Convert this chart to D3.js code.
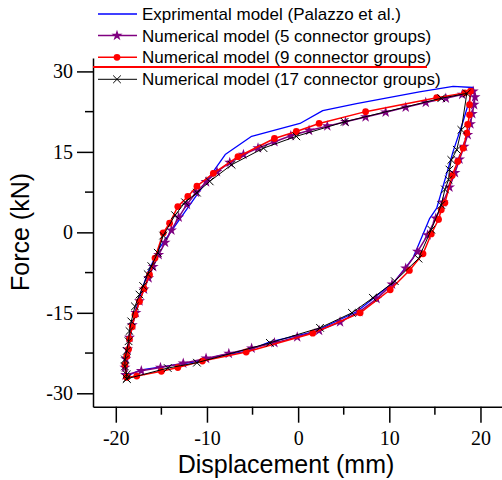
<!DOCTYPE html>
<html>
<head>
<meta charset="utf-8">
<script src="https://cdn.jsdelivr.net/npm/d3@7"></script>
<style>
  body { margin: 0; background: #fff; }
  svg { display: block; }
  .tick text { font-family: "Liberation Serif", "Times New Roman", serif; font-size: 20px; }
  .sans { font-family: "Liberation Sans", Arial, sans-serif; }
</style>
</head>
<body>
<svg id="chart" width="502" height="480"></svg>
<script>
// Hysteresis loops, [displacement (mm), force (kN)]
const experimental = [
    [-18.9, -26.9], [-18.7, -22.5], [-18.2, -17.5], [-17.5, -12.5], [-16.5, -7.5], [-15.2, -2.9],
    [-8.0, 14.5], [-5.1, 17.9], [0.2, 20.3], [2.7, 22.7], [6.4, 24.0], [13.3, 26.2], [17.0, 27.2],
    [19.2, 27.0], [18.1, 20.7], [17.0, 15.1], [15.2, 4.5], [14.4, 2.5], [12.6, -4.8], [10.6, -9.1],
    [9.0, -11.3], [6.4, -14.8], [1.8, -18.5], [-3.1, -20.4], [-5.7, -22.2], [-8.6, -23.0],
    [-11.1, -24.1], [-17.4, -25.7], [-18.9, -26.9]
];

const groups5 = [
    [-18.9, -26.6], [-19.0, -25.2], [-18.9, -23.6], [-18.7, -21.8], [-18.5, -19.6], [-18.2, -17.3],
    [-17.8, -15.0], [-17.4, -12.8], [-16.9, -10.6], [-16.4, -8.5], [-15.9, -6.4], [-15.3, -4.2],
    [-14.6, -1.9], [-13.9, 0.4], [-13.1, 2.8], [-12.2, 5.2], [-11.2, 7.4], [-10.1, 9.4], [-8.9, 11.3],
    [-7.5, 13.0], [-6.0, 14.5], [-4.4, 15.7], [-2.6, 16.9], [-0.8, 18.0], [1.2, 19.0], [3.2, 19.8],
    [5.2, 20.6], [7.4, 21.5], [9.6, 22.4], [11.8, 23.3], [14.0, 24.2], [16.2, 25.0], [18.0, 25.7],
    [19.2, 26.3], [19.4, 25.2], [19.3, 23.8], [19.1, 22.1], [18.9, 20.2], [18.6, 18.2], [18.2, 16.0],
    [17.7, 13.6], [17.2, 11.1], [16.6, 8.4], [15.9, 5.6], [15.1, 2.6], [14.2, -0.5], [13.1, -3.6],
    [11.8, -6.7], [10.3, -9.7], [8.6, -12.4], [6.7, -14.8], [4.6, -16.7], [2.3, -18.3], [-0.1, -19.5],
    [-2.6, -20.6], [-5.1, -21.6], [-7.6, -22.6], [-10.1, -23.5], [-12.6, -24.4], [-15.1, -25.2],
    [-17.2, -25.8], [-18.9, -26.6]
];

const groups9 = [
    [-18.8, -27.0], [-19.0, -24.7], [-18.8, -23.1], [-18.6, -21.8], [-18.5, -19.9], [-18.2, -17.6],
    [-17.9, -15.4], [-17.4, -12.9], [-16.9, -10.5], [-16.3, -7.9], [-15.7, -4.8], [-14.8, -0.1],
    [-14.1, 1.7], [-13.2, 4.8], [-12.1, 6.7], [-11.1, 8.6], [-9.3, 11.0], [-6.6, 14.1], [-2.6, 17.5],
    [-0.2, 18.8], [2.3, 20.3], [7.4, 22.5], [15.2, 25.1], [18.3, 26.0], [18.9, 26.3], [18.8, 23.8],
    [18.8, 21.9], [18.6, 20.1], [18.5, 18.5], [18.1, 15.7], [17.5, 13.2], [16.9, 10.6], [16.1, 5.5],
    [15.7, 4.2], [15.4, 2.4], [14.6, -0.3], [13.7, -4.0], [12.2, -7.1], [10.1, -10.7], [6.8, -15.0],
    [1.6, -18.8], [-5.7, -22.3], [-10.5, -24.0], [-13.2, -25.2], [-15.0, -25.9], [-17.7, -26.8],
    [-18.8, -27.0]
];

const groups17 = [
    [-18.8, -27.3], [-18.8, -26.5], [-19.0, -25.0], [-19.0, -23.7], [-18.8, -22.1], [-18.6, -20.3],
    [-18.5, -18.4], [-18.3, -16.6], [-17.9, -13.8], [-17.4, -11.6], [-17.0, -10.0], [-16.5, -7.8],
    [-16.1, -6.3], [-15.4, -3.8], [-14.8, -0.6], [-13.5, 3.2], [-12.4, 5.6], [-11.1, 7.4], [-9.7, 9.5],
    [-7.3, 12.6], [-3.8, 15.7], [-0.2, 17.9], [5.1, 20.6], [15.7, 25.0], [18.5, 25.9], [17.9, 19.1],
    [17.4, 15.4], [16.8, 13.5], [16.6, 11.7], [16.5, 9.8], [16.1, 8.0], [15.7, 5.1], [14.6, 0.5],
    [13.2, -4.9], [10.6, -9.1], [8.2, -12.2], [5.9, -15.0], [2.4, -17.8], [-3.1, -20.6], [-11.1, -24.3],
    [-14.3, -25.3], [-18.8, -27.3]
];

const xTicks = [-20, -10, 0, 10, 20];
const xMinor = [-15, -5, 5, 15];
const yTicks = [-30, -15, 0, 15, 30];
const yMinor = [-22.5, -7.5, 7.5, 22.5];

const seriesNames = [
    "Exprimental model (Palazzo et al.)",
    "Numerical model (5 connector groups)",
    "Numerical model (9 connector groups)",
    "Numerical model (17 connector groups)"
];

const svg = d3.select("#chart");
const margin = {left: 93, top: 58, bottom: 406.7};

const x = d3.scaleLinear().domain([-22.5, 22.5]).range([margin.left, margin.left + 45 * 9.117]);
const y = d3.scaleLinear().domain([-32.5, 32.5]).range([margin.bottom, margin.top]);

const series = [
    {data: experimental, color: "#0000ff", width: 1.3, marker: null},
    {data: groups5, color: "#800080", width: 1.5, marker: "star"},
    {data: groups9, color: "#ff0000", width: 1.5, marker: "dot"},
    {data: groups17, color: "#000000", width: 1, marker: "cross"}
];

function drawMarker(g, kind, color) {
    if (kind === "star") {
        g.append("path")
            .attr("d", d3.symbol(d3.symbolStar, 38)())
            .attr("fill", color);
    } else if (kind === "dot") {
        g.append("circle").attr("r", 3.4).attr("fill", color);
    } else if (kind === "cross") {
        g.append("path")
            .attr("d", d3.symbol(d3.symbolX, 40)())
            .attr("fill", "none")
            .attr("stroke", color)
            .attr("stroke-width", 1);
    }
}

const line = d3.line().x(d => x(d[0])).y(d => y(d[1]));

// Loops
series.forEach(s => {
    svg.append("path")
        .datum(s.data)
        .attr("fill", "none")
        .attr("stroke", s.color)
        .attr("stroke-width", s.width)
        .attr("stroke-linejoin", "round")
        .attr("d", line);

    if (s.marker) {
        svg.append("g")
            .selectAll("g")
            .data(s.data)
            .join("g")
            .attr("transform", d => `translate(${x(d[0])},${y(d[1])})`)
            .each(function () { drawMarker(d3.select(this), s.marker, s.color); });
    }
});

// Axes
const fmt = d => String(d);
const xAxis = svg.append("g")
    .attr("transform", `translate(0,${margin.bottom})`)
    .call(d3.axisBottom(x).tickValues(xTicks).tickFormat(fmt).tickSize(16).tickSizeOuter(0).tickPadding(8));
xAxis.append("g")
    .selectAll("line")
    .data(xMinor)
    .join("line")
    .attr("x1", d => x(d)).attr("x2", d => x(d))
    .attr("y1", 0).attr("y2", 8)
    .attr("stroke", "#000").attr("stroke-width", 1.5);

const yAxis = svg.append("g")
    .attr("transform", `translate(${margin.left},0)`)
    .call(d3.axisLeft(y).tickValues(yTicks).tickFormat(fmt).tickSize(16).tickSizeOuter(0).tickPadding(4));
yAxis.append("g")
    .selectAll("line")
    .data(yMinor)
    .join("line")
    .attr("y1", d => y(d)).attr("y2", d => y(d))
    .attr("x1", 0).attr("x2", -8)
    .attr("stroke", "#000").attr("stroke-width", 1.5);

svg.selectAll(".domain, .tick line").attr("stroke", "#000").attr("stroke-width", 1.5);
svg.selectAll(".tick text").attr("fill", "#000");

// Axis titles
svg.append("text")
    .attr("class", "sans")
    .attr("x", 286)
    .attr("y", 473)
    .attr("text-anchor", "middle")
    .style("font-size", "25px")
    .text("Displacement (mm)");

svg.append("text")
    .attr("class", "sans")
    .attr("transform", "translate(29,232) rotate(-90)")
    .attr("text-anchor", "middle")
    .style("font-size", "25px")
    .text("Force (kN)");

// Legend
const rowY = [14, 35.5, 57.3, 79.3];
series.forEach((s, i) => {
    const row = svg.append("g").attr("transform", `translate(0,${rowY[i]})`);
    row.append("line")
        .attr("x1", 98).attr("x2", 137)
        .attr("stroke", s.color)
        .attr("stroke-width", s.width);
    if (s.marker) {
        const m = row.append("g").attr("transform", "translate(117,0)");
        drawMarker(m, s.marker, s.color);
    }
    row.append("text")
        .attr("class", "sans")
        .attr("x", 142)
        .attr("y", 6)
        .style("font-size", "17px")
        .text(seriesNames[i]);
});

// red rule under the third legend entry
svg.append("line")
    .attr("x1", margin.left).attr("x2", 427)
    .attr("y1", 67).attr("y2", 67)
    .attr("stroke", "#ff0000")
    .attr("stroke-width", 2);
</script>
</body>
</html>
